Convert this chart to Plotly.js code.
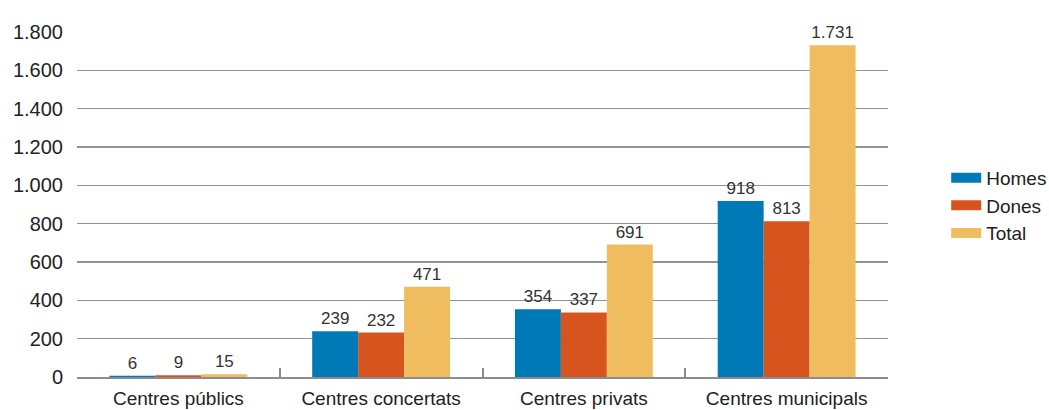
<!DOCTYPE html>
<html>
<head>
<meta charset="utf-8">
<script src="https://cdn.plot.ly/plotly-3.0.1.min.js"></script>
<style>html,body{margin:0;padding:0;background:#fff;}#chart{width:1049px;height:410px;}</style>
</head>
<body>
<div id="chart"></div>
<script>
const categories = ["Centres públics", "Centres concertats", "Centres privats", "Centres municipals"];
const seriesNames = ["Homes", "Dones", "Total"];
const homes = [6, 239, 354, 918];
const dones = [9, 232, 337, 813];
const total = [15, 471, 691, 1731];
const yTicks = [0, 200, 400, 600, 800, 1000, 1200, 1400, 1600, 1800];
const colors = ["#007ab6", "#d8541e", "#efbd5f"];

const values = [homes, dones, total];
const traces = values.map((v, i) => ({
  type: "bar",
  x: categories,
  y: v,
  name: seriesNames[i],
  marker: {color: colors[i]},
  texttemplate: "%{y:,}",
  textposition: "outside",
  cliponaxis: false,
  textfont: {family: "Liberation Sans Narrow, Arial Narrow, sans-serif", size: 17, color: "#333"},
  showlegend: false,
  hoverinfo: "skip"
}));
// legend entries with wide swatches
seriesNames.forEach((n, i) => {
  traces.push({
    type: "scatter", mode: "lines", x: [null], y: [null], name: n,
    line: {color: colors[i], width: 14}, hoverinfo: "skip"
  });
});

const layout = {
  width: 1049, height: 410,
  margin: {l: 77, r: 161, t: 32, b: 33},
  paper_bgcolor: "#fff", plot_bgcolor: "#fff",
  separators: ",.",
  font: {family: "Liberation Sans, Arial, sans-serif", size: 19, color: "#222"},
  barmode: "group",
  bargap: 0.32,
  bargroupgap: 0,
  xaxis: {
    type: "category",
    showline: true, linecolor: "#8c8c8c", linewidth: 2,
    ticks: "inside", tickson: "boundaries", ticklen: 9, tickcolor: "#8c8c8c", tickwidth: 2,
    ticklabelstandoff: 3,
    showgrid: false, fixedrange: true,
    tickfont: {size: 19, color: "#222"}
  },
  yaxis: {
    range: [0, 1800], tickvals: yTicks, tickformat: ",",
    showgrid: true, gridcolor: "#929292", gridwidth: 1.5,
    zeroline: false, showline: false, ticks: "",
    ticklabelstandoff: 13,
    tickfont: {size: 20, color: "#222"}, fixedrange: true
  },
  legend: {
    xref: "container", yref: "container",
    x: 0.902, y: 0.498, xanchor: "left", yanchor: "middle",
    itemwidth: 30, font: {size: 19, color: "#222"},
    bgcolor: "rgba(0,0,0,0)"
  },
  showlegend: true
};

Plotly.newPlot("chart", traces, layout, {displayModeBar: false, staticPlot: true});
</script>
</body>
</html>
